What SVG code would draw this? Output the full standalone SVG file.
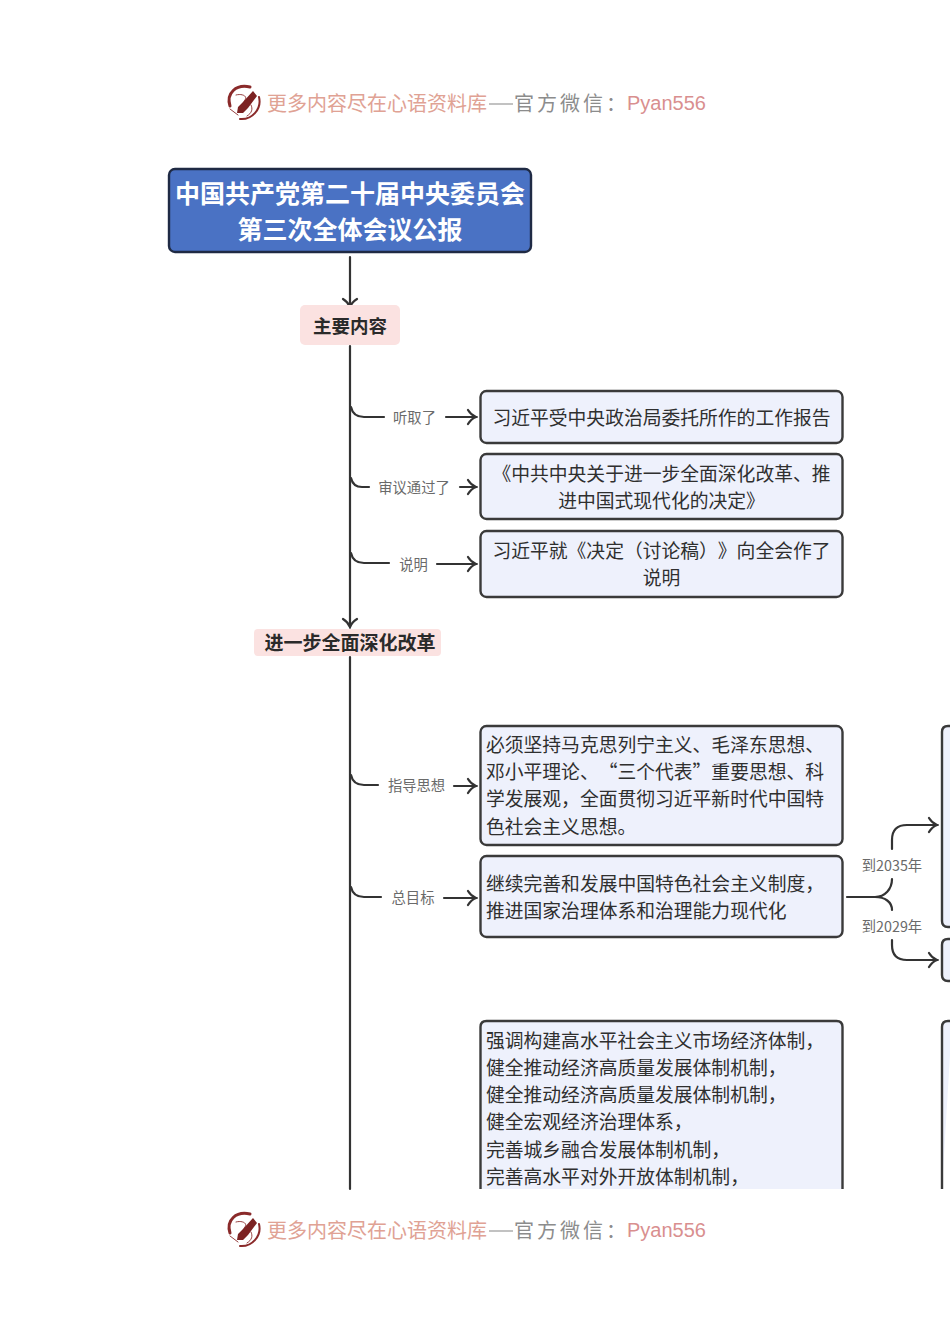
<svg xmlns="http://www.w3.org/2000/svg" width="950" height="1344" viewBox="0 0 950 1344">
<style>
text{font-family:"Noto Sans CJK SC","Noto Sans",sans-serif;font-kerning:none;text-spacing-trim:space-all;font-feature-settings:"palt" 0,"kern" 0,"chws" 0}
.box{fill:#eef1fc;stroke:#3a3a3a;stroke-width:2.4}
.pink{fill:#fbe2e1}
.t{font-size:18.8px;fill:#2f2f2f}
.m{text-anchor:middle}
.l{font-size:14.3px;fill:#6a6a6a;text-anchor:middle}
.h{font-weight:700;fill:#2a2a2a;text-anchor:middle}
.c{fill:none;stroke:#333;stroke-width:2.2;stroke-linecap:round;stroke-linejoin:round}
.w1{font-size:20px;fill:#e0a294}
.w2{font-size:20px;fill:#8c8c8c}
.w3{font-size:20px;fill:#d98f8f;font-family:"Liberation Sans",Arial,sans-serif}
.lg{fill:none;stroke:#8a2a2a;stroke-linecap:round}
</style>
<defs>
<marker id="a" viewBox="0 0 12 18" refX="10.5" refY="9" markerWidth="12" markerHeight="18" markerUnits="userSpaceOnUse" orient="auto">
<path d="M2.500 2Q5.500 7 10.500 9Q5.500 11 2.500 16" fill="none" stroke="#333" stroke-width="2.2" stroke-linecap="round"/>
</marker>
</defs>
<rect width="950" height="1344" fill="#fff"/>

<g id="watermark-top">
<path class="lg" stroke-width="3" d="M230 106C226 93 236 84 250 87"/>
<path class="lg" stroke-width="2" d="M259 97C262 109 252 120 240 119"/>
<path fill="#7c2222" d="M253 91L257 96L248 108L243 113L237 113L238 107L243 102Z"/>
<path class="lg" stroke-width="0.9" d="M236 95C243 93 249 97 244 101M247 116C252 113 253 109 251 105M230 109L238 115"/>
<text class="w1" x="267" y="111">更多内容尽在心语资料库</text>
<path d="M489 104H513" stroke="#a8a8a8" stroke-width="1.4"/>
<text class="w2" x="514" y="111" letter-spacing="3">官方微信：</text>
<text class="w3" x="627" y="110">Pyan556</text>
</g>

<g id="connectors">
<path class="c" marker-end="url(#a)" d="M350 257V307"/>
<path class="c" marker-end="url(#a)" d="M350 346V627"/>
<path class="c" d="M350 657V1189"/>
<path class="c" d="M351 407Q353 417 364 417H384"/>
<path class="c" marker-end="url(#a)" d="M446 417H476"/>
<path class="c" d="M351 478Q353 487 362 487H369"/>
<path class="c" marker-end="url(#a)" d="M460 487H476"/>
<path class="c" d="M351 553Q353 563 364 563H389"/>
<path class="c" marker-end="url(#a)" d="M437 564H476"/>
<path class="c" d="M351 775Q353 785 364 785H378"/>
<path class="c" marker-end="url(#a)" d="M454 786H476"/>
<path class="c" d="M351 887Q353 897 364 897H381"/>
<path class="c" marker-end="url(#a)" d="M444 898H476"/>
<path class="c" d="M847 897H875C885 897 892 889 892 879"/>
<path class="c" d="M875 897C885 897 892 902 892 910"/>
<path class="c" marker-end="url(#a)" d="M892 849V840Q892 825 907 825H937"/>
<path class="c" marker-end="url(#a)" d="M892 940V945Q892 960 907 960H937"/>
</g>

<g id="title">
<rect x="169" y="169" width="362" height="83" rx="6" fill="#4a72c4" stroke="#1f2a44" stroke-width="2.4"/>
<text x="350" y="203" font-size="25" font-weight="700" fill="#fff" text-anchor="middle">中国共产党第二十届中央委员会</text>
<text x="350" y="239" font-size="25" font-weight="700" fill="#fff" text-anchor="middle">第三次全体会议公报</text>
</g>
<g id="main-content">
<rect class="pink" x="300" y="305" width="100" height="40" rx="5"/>
<text class="h" x="350" y="332.500" font-size="18.500">主要内容</text>
</g>
<g id="deepen-reform">
<rect class="pink" x="254" y="629" width="187" height="27" rx="4"/>
<text class="h" x="350" y="649.500" font-size="19">进一步全面深化改革</text>
</g>

<g id="label-heard"><text class="l" x="414.500" y="423">听取了</text></g>
<g id="label-approved"><text class="l" x="414" y="493">审议通过了</text></g>
<g id="label-explain"><text class="l" x="413.500" y="570">说明</text></g>
<g id="label-guide"><text class="l" x="416.500" y="791">指导思想</text></g>
<g id="label-goal"><text class="l" x="413" y="903">总目标</text></g>
<g id="label-2035"><text class="l" x="892" y="871">到2035年</text></g>
<g id="label-2029"><text class="l" x="892" y="932">到2029年</text></g>

<g id="node-report">
<rect class="box" x="480.500" y="391" width="362" height="52" rx="6"/>
<text class="t m" x="661.500" y="424.500">习近平受中央政治局委托所作的工作报告</text>
</g>
<g id="node-decision">
<rect class="box" x="480.500" y="454" width="362" height="65" rx="6"/>
<text class="t m" x="661.500" y="481">《中共中央关于进一步全面深化改革、推</text>
<text class="t m" x="661.500" y="508">进中国式现代化的决定》</text>
</g>
<g id="node-explain">
<rect class="box" x="480.500" y="531" width="362" height="66" rx="6"/>
<text class="t m" x="661.500" y="558">习近平就《决定（讨论稿）》向全会作了</text>
<text class="t m" x="661.500" y="585">说明</text>
</g>
<g id="node-guide">
<rect class="box" x="480.500" y="726" width="362" height="119" rx="6"/>
<text class="t" x="486" y="752">必须坚持马克思列宁主义、毛泽东思想、</text>
<text class="t" x="486" y="779">邓小平理论、“三个代表”重要思想、科</text>
<text class="t" x="486" y="806">学发展观，全面贯彻习近平新时代中国特</text>
<text class="t" x="486" y="834">色社会主义思想。</text>
</g>
<g id="node-goal">
<rect class="box" x="480.500" y="856" width="362" height="81" rx="6"/>
<text class="t" x="486" y="891">继续完善和发展中国特色社会主义制度，</text>
<text class="t" x="486" y="918">推进国家治理体系和治理能力现代化</text>
</g>
<g id="node-measures">
<path class="box" d="M480.500 1189V1027Q480.500 1021 486.500 1021H836.500Q842.500 1021 842.500 1027V1189"/>
<text class="t" x="486" y="1048">强调构建高水平社会主义市场经济体制，</text>
<text class="t" x="486" y="1075">健全推动经济高质量发展体制机制，</text>
<text class="t" x="486" y="1102">健全推动经济高质量发展体制机制，</text>
<text class="t" x="486" y="1129">健全宏观经济治理体系，</text>
<text class="t" x="486" y="1157">完善城乡融合发展体制机制，</text>
<text class="t" x="486" y="1184">完善高水平对外开放体制机制，</text>
</g>
<g id="node-right-2035"><path class="box" d="M952 726H948Q942 726 942 732V921Q942 927 948 927H952"/></g>
<g id="node-right-2029"><path class="box" d="M952 939H948Q942 939 942 945V975Q942 981 948 981H952"/></g>
<g id="node-right-lower"><path class="box" d="M952 1021H948Q942 1021 942 1027V1189"/></g>

<g id="watermark-bottom" transform="translate(0 1127)">
<path class="lg" stroke-width="3" d="M230 106C226 93 236 84 250 87"/>
<path class="lg" stroke-width="2" d="M259 97C262 109 252 120 240 119"/>
<path fill="#7c2222" d="M253 91L257 96L248 108L243 113L237 113L238 107L243 102Z"/>
<path class="lg" stroke-width="0.9" d="M236 95C243 93 249 97 244 101M247 116C252 113 253 109 251 105M230 109L238 115"/>
<text class="w1" x="267" y="111">更多内容尽在心语资料库</text>
<path d="M489 104H513" stroke="#a8a8a8" stroke-width="1.4"/>
<text class="w2" x="514" y="111" letter-spacing="3">官方微信：</text>
<text class="w3" x="627" y="110">Pyan556</text>
</g>
</svg>
